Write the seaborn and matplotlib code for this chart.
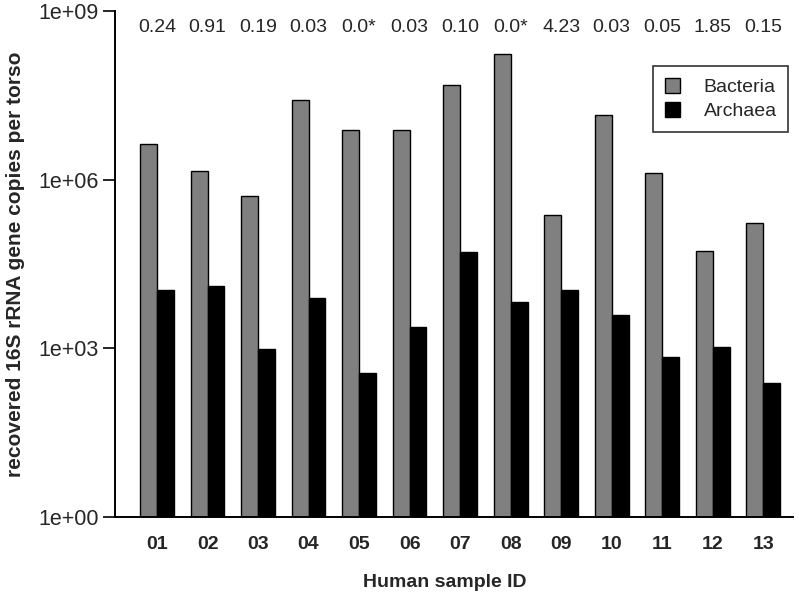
import numpy as np
import pandas as pd
import matplotlib
matplotlib.use("Agg")
import matplotlib.pyplot as plt
import matplotlib.transforms as mtransforms
import seaborn as sns

# values (log scale)
samples = ["01", "02", "03", "04", "05", "06", "07", "08", "09", "10", "11", "12", "13"]
bacteria = [4.3e6, 1.4e6, 5.1e5, 2.6e7, 7.7e6, 7.7e6, 4.9e7, 1.7e8, 2.4e5, 1.4e7, 1.3e6, 5.4e4, 1.7e5]
archaea = [1.1e4, 1.3e4, 970, 7900, 365, 2400, 5.2e4, 6700, 1.1e4, 3900, 710, 1050, 240]
ratios = ["0.24", "0.91", "0.19", "0.03", "0.0*", "0.03", "0.10", "0.0*", "4.23", "0.03", "0.05", "1.85", "0.15"]

df = pd.DataFrame({
    "sample": samples * 2,
    "domain": ["Bacteria"] * len(samples) + ["Archaea"] * len(samples),
    "copies": bacteria + archaea,
})

sns.set_style("white")
plt.rcParams["font.family"] = ["Liberation Sans", "DejaVu Sans"]

fig = plt.figure(figsize=(7.99, 5.97), dpi=100)
ax = fig.add_axes([0.144, 0.134, 0.8485, 0.8476])

sns.barplot(data=df, x="sample", y="copies", hue="domain",
            palette=["#808080", "#000000"], width=0.67,
            edgecolor="black", linewidth=1, errorbar=None, ax=ax)

ax.set_yscale("log")
ax.set_ylim(1, 1e9)
ax.set_xlim(-0.83, 12.59)
ax.set_yticks([1, 1e3, 1e6, 1e9])
ax.set_yticklabels(["1e+00", "1e+03", "1e+06", "1e+09"])
ax.minorticks_off()

# ratio labels along the top
trans = mtransforms.blended_transform_factory(ax.transData, ax.transAxes)
for i, r in enumerate(ratios):
    ax.text(i, 0.968, r, transform=trans, ha="center", va="center", fontsize=14)

ax.set_xlabel("Human sample ID", fontsize=14, fontweight="bold")
ax.xaxis.set_label_coords(0.487, -0.113)
ax.set_ylabel("recovered 16S rRNA gene copies per torso", fontsize=15,
              fontweight="bold", labelpad=9)

for lab in ax.get_xticklabels():
    lab.set_fontweight("bold")
ax.tick_params(axis="x", length=0, labelsize=14, pad=14)
ax.tick_params(axis="y", direction="out", length=9, width=1.2, labelsize=15.5,
               pad=3, left=True, color="black")

sns.despine(ax=ax, top=True, right=True)
for s in ["left", "bottom"]:
    ax.spines[s].set_color("black")
    ax.spines[s].set_linewidth(1.4)

leg = ax.legend(loc="upper right", bbox_to_anchor=(0.993, 0.891), fontsize=14,
                frameon=True, fancybox=False, edgecolor="black",
                handlelength=0.8, handleheight=0.8, handletextpad=1.2,
                borderpad=0.6, labelspacing=0.3, borderaxespad=0)
leg.get_frame().set_linewidth(1.2)

fig.savefig("out.png", dpi=100)
